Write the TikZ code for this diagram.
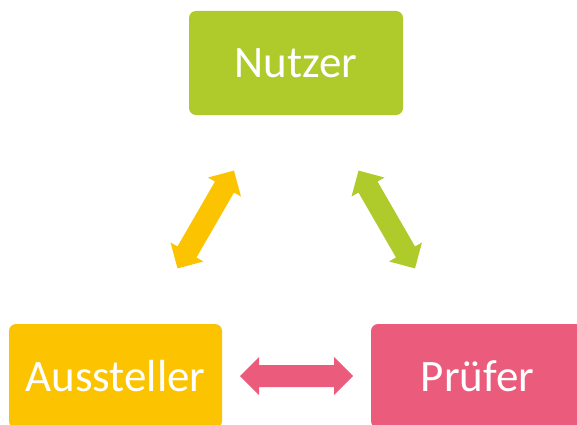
\documentclass[tikz,border=0pt]{standalone}
\usepackage{fontspec}
\setmainfont{Carlito}
\usetikzlibrary{calc}
\definecolor{cgreen}{HTML}{AFCA2B}
\definecolor{cyellow}{HTML}{FCC400}
\definecolor{cpink}{HTML}{EB5B7B}
\newcommand\myfatarrow{(-56.5,0) -- (-37.5,19) -- (-37.5,11) -- (37.5,11) -- (37.5,19) -- (56.5,0) -- (37.5,-19) -- (37.5,-11) -- (-37.5,-11) -- (-37.5,-19) -- cycle}
\tikzset{
  rolebox/.style={rounded corners=7pt, minimum width=214pt, minimum height=104pt,
    inner sep=0pt, text=white, font=\fontsize{45}{50}\selectfont},
}
\begin{document}
\begin{tikzpicture}[x=1pt,y=1pt]
\useasboundingbox (0,0) rectangle (577,424);
\clip (0,0) rectangle (577,424);
\node[rolebox, fill=cgreen] (n) at (296,361) {Nutzer};
\node[rolebox, fill=cyellow, minimum width=213pt] (a) at (115.5,48) {Aussteller};
\node[rolebox, fill=cpink, minimum width=213pt] (p) at (477.5,48) {Prüfer};
\coordinate (na) at ($(n.center)!0.5!(a.center)$);
\coordinate (np) at ($(n.center)!0.5!(p.center)$);
\coordinate (ap) at ($(a.center)!0.5!(p.center)$);
\fill[cyellow, shift={(na)}, rotate=60] \myfatarrow;
\fill[cgreen, shift={(np)}, rotate=-60] \myfatarrow;
\fill[cpink, shift={(ap)}] \myfatarrow;
\end{tikzpicture}
\end{document}
